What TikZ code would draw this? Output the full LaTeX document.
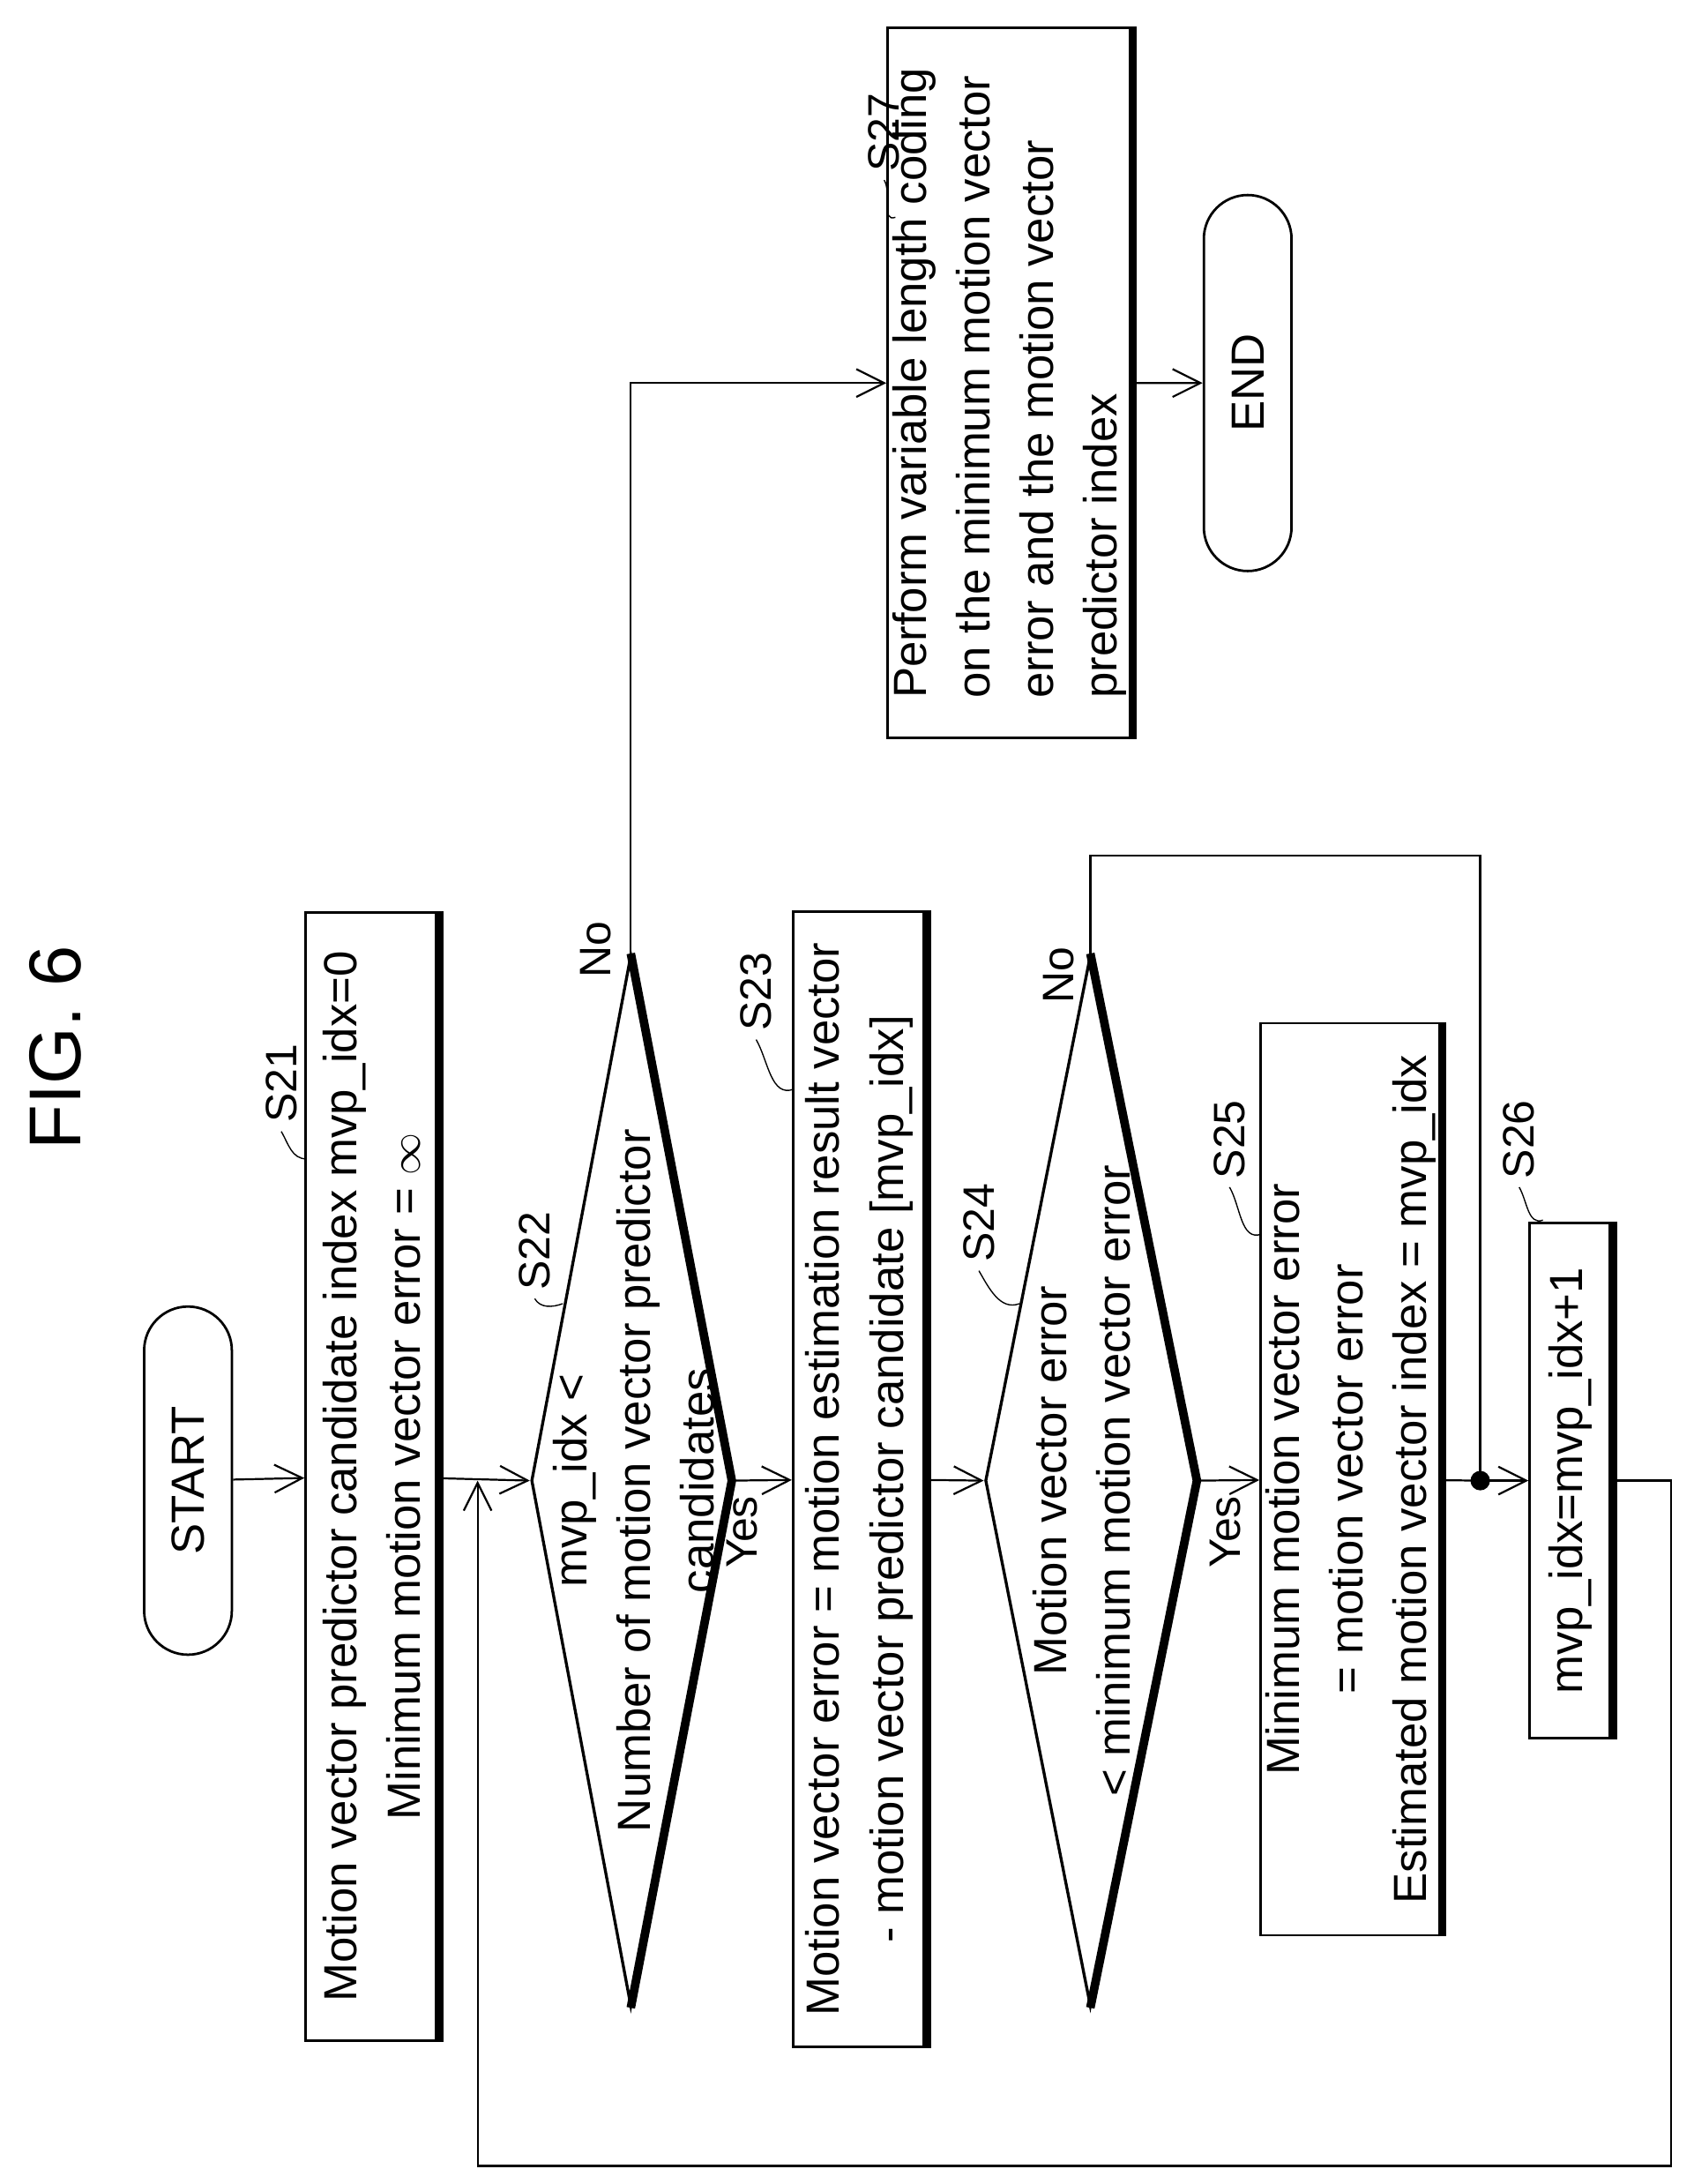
\documentclass[tikz,border=0pt]{standalone}
\usepackage{fontspec}
\setmainfont{Liberation Sans}
\usetikzlibrary{arrows.meta,shapes.geometric,shapes.misc}
\tikzset{every node/.style={font=\fontsize{19}{26}\selectfont},
  box/.style={draw,line width=1pt,rotate=90,align=center,inner sep=2pt},
  term/.style={draw,line width=1pt,rotate=90,rounded rectangle,inner sep=0pt},
  dia/.style={draw,line width=1.2pt,rotate=90,diamond,inner sep=0pt},
  txt/.style={rotate=90,align=center},
  lab/.style={rotate=90,font=\fontsize{18}{20}\selectfont},
  arr/.style={line width=0.8pt,-{Straight Barb[length=4mm,width=4mm]}},
  line/.style={line width=0.8pt},
  lead/.style={line width=0.5pt},
  shade/.style={line width=3.5pt}}

\begin{document}
\begin{tikzpicture}[x=0.02cm,y=-0.02cm]
    \useasboundingbox (0,0) rectangle (1216,1568);

    \node[rotate=90,font=\fontsize{30}{32}\selectfont] (fig) at (40,752) {FIG. 6};

    % terminals and process boxes
    \node[term,minimum width=5cm,minimum height=1.26cm] (start) at (135,1063) {START};
    \node[box,minimum width=16.2cm,minimum height=1.9cm] (s21) at (267,1060)
      {Motion vector predictor candidate index mvp\_idx=0\\Minimum motion vector error = $\infty$};
    \node[box,minimum width=16.3cm,minimum height=1.9cm] (s23) at (617,1062)
      {Motion vector error = motion estimation result vector\\- motion vector predictor candidate [mvp\_idx]};
    \node[box,minimum width=13.1cm,minimum height=2.54cm] (s25) at (970,1062)
      {Minimum motion vector error\\= motion vector error\\Estimated motion vector index = mvp\_idx};
    \node[box,minimum width=7.4cm,minimum height=1.18cm] (s26) at (1128,1063) {mvp\_idx=mvp\_idx+1};
    \node[box,align=left,minimum width=10.2cm,minimum height=3.34cm] (s27) at (725,275)
      {Perform variable length coding\\on the minimum motion vector\\error and the motion vector\\predictor index};
    \node[term,minimum width=5.4cm,minimum height=1.26cm] (end) at (896,275) {END};

    % decisions
    \node[dia,minimum width=15.1cm,minimum height=2.86cm] (s22) at (453,1063) {};
    \node[txt] (t22) at (455,1063) {mvp\_idx <\\Number of motion vector predictor\\candidates};
    \node[dia,minimum width=15.1cm,minimum height=3.02cm] (s24) at (783,1063) {};
    \node[txt] (t24) at (777,1063) {Motion vector error\\< minimum motion vector error};

    % shadows
    \foreach \b in {s21,s23,s25,s26,s27}
      \draw[shade] (\b.south west) -- (\b.south east);
    \draw[shade] (s22.east) -- (s22.south) -- (s22.west);
    \draw[shade] (s24.east) -- (s24.south) -- (s24.west);

    % step labels
    \node[lab] (l21) at (202,778) {S21};
    \node[lab] (l22) at (384,898) {S22};
    \node[lab] (l23) at (543,712) {S23};
    \node[lab] (l24) at (703,878) {S24};
    \node[lab] (l25) at (883,818) {S25};
    \node[lab] (l26) at (1091,818) {S26};
    \node[lab] (l27) at (635,95) {S27};
    \draw[lead] (l21.west) to[out=-60,in=180] (220,832);
    \draw[lead] (l22.west) to[out=-60,in=200] (404,936);
    \draw[lead] (l23.west) to[out=-60,in=200] (570,782);
    \draw[lead] (l24.west) to[out=-60,in=200] (732,936);
    \draw[lead] (l25.west) to[out=-60,in=200] (906,886);
    \draw[lead] (l26.west) to[out=-60,in=200] (1108,876);
    \draw[lead] (l27.west) to[out=-60,in=200] (643,156);

    % branch labels
    \node[lab] (n22) at (428,682) {No};
    \node[lab] (y22) at (533,1100) {Yes};
    \node[lab] (n24) at (760,700) {No};
    \node[lab] (y24) at (880,1100) {Yes};

    % connectors
    \coordinate (j1) at (343,1063);
    \coordinate (jd) at (1063,1063);
    \coordinate (lr) at (1200,1555);
    \draw[arr] (start) -- (s21);
    \draw[arr] (s21) -- (s22.north);
    \draw[arr] (s22.south) -- (s23);
    \draw[arr] (s22.east) |- (s27);
    \draw[arr] (s23) -- (s24.north);
    \draw[arr] (s24.south) -- (s25);
    \draw[line] (s24.east) -- ++(0,-70) -| (jd);
    \draw[line] (s25) -- (jd);
    \draw[arr] (jd) -- (s26);
    \fill (jd) circle[radius=7];
    \draw[arr] (s26.south) -| (lr) -| (j1);
    \draw[arr] (s27) -- (end);
\end{tikzpicture}
\end{document}
